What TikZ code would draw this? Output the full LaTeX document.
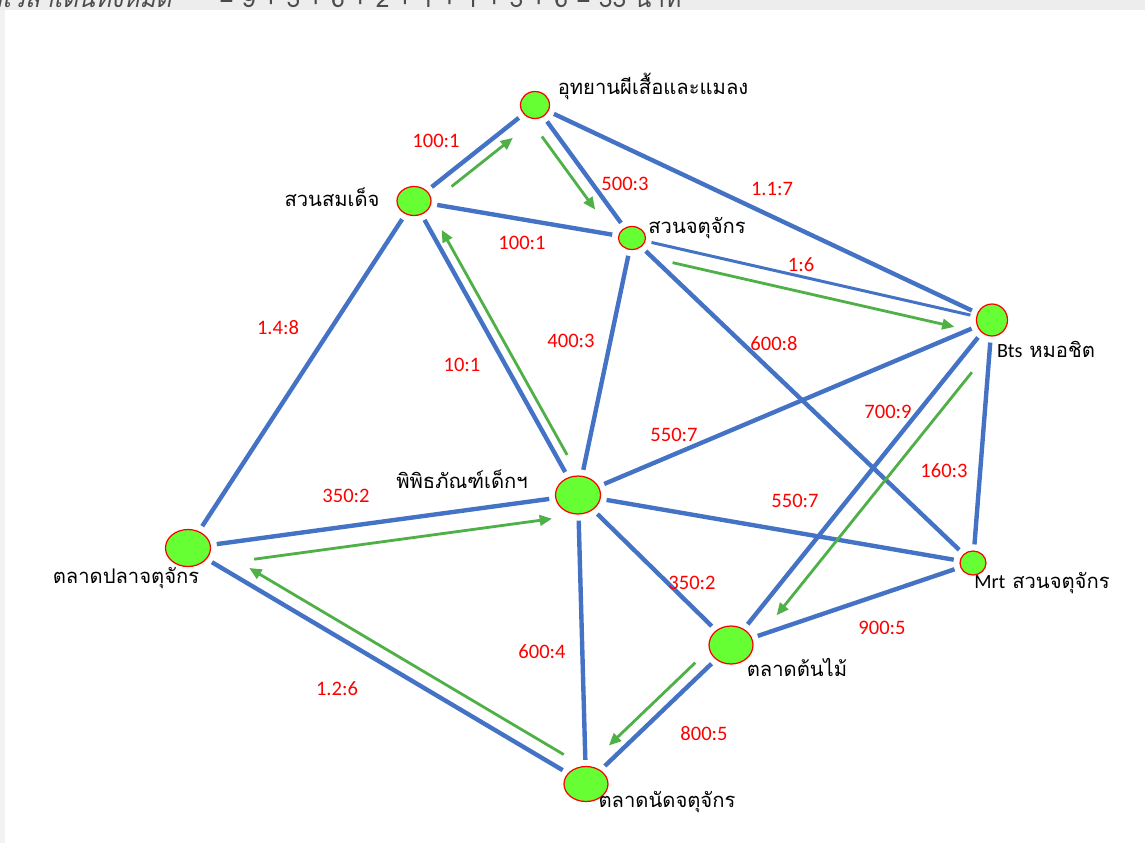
\documentclass[tikz,border=0pt]{standalone}
\usepackage{fontspec}
\setmainfont{Carlito}
\newfontfamily\thaifont[Script=Thai]{Loma}
\newfontfamily\thaislant[Script=Thai,FakeSlant=0.2]{Loma}
\usetikzlibrary{shapes.geometric,arrows.meta}
\definecolor{edgeblue}{RGB}{68,114,196}
\definecolor{stopgreen}{RGB}{102,255,51}
\definecolor{routegreen}{RGB}{80,176,72}

\begin{document}
\begin{tikzpicture}[
    x=0.02cm, y=-0.02cm,
    stop/.style={ellipse, draw=red, fill=stopgreen, line width=0.7pt, inner sep=0pt},
    place/.style={font=\thaifont\fontsize{11.5}{14}\selectfont, text=black, inner sep=0pt},
    cost/.style={font=\fontsize{11.7}{13}\selectfont, text=red, inner sep=0pt},
    link/.style={draw=edgeblue, line width=2.5pt, shorten <=0.12cm, shorten >=0.12cm},
    route/.style={draw=routegreen, line width=1.6pt, -{Triangle[length=7pt,width=6pt]}}
]
\useasboundingbox (0,0) rectangle (1145,843);
\fill[black!7] (0,0) rectangle (1145,10);
\fill[black!5] (0,10) rectangle (5,843);
\node[anchor=base east, inner sep=0pt, text=black!70, font=\thaislant\fontsize{14}{16}\selectfont] (totallabel) at (172,7) {รวมเวลาเดินทั้งหมด};
\node[anchor=base west, inner sep=0pt, text=black!70, font=\thaifont\fontsize{14}{16}\selectfont] (total) at (219,7) {= 9 + 3 + 6 + 2 + 1 + 1 + 3 + 6 = 33 นาที};

\node[stop, minimum width=0.58cm, minimum height=0.54cm] (butterfly) at (535,105) {};
\node[stop, minimum width=0.68cm, minimum height=0.58cm] (queenpark) at (414,201) {};
\node[stop, minimum width=0.54cm, minimum height=0.46cm] (jjpark) at (632,238) {};
\node[stop, minimum width=0.62cm, minimum height=0.64cm] (bts) at (992,320) {};
\node[stop, minimum width=0.90cm, minimum height=0.76cm] (museum) at (578,495) {};
\node[stop, minimum width=0.90cm, minimum height=0.74cm] (fishmkt) at (188,548) {};
\node[stop, minimum width=0.52cm, minimum height=0.48cm] (mrt) at (973,563) {};
\node[stop, minimum width=0.88cm, minimum height=0.76cm] (plantmkt) at (731,645) {};
\node[stop, minimum width=0.88cm, minimum height=0.70cm] (weekendmkt) at (586,784) {};

\node[place] (butterfly-l) at (653,86) {อุทยานผีเสื้อและแมลง};
\node[place] (queenpark-l) at (332,197) {สวนสมเด็จ};
\node[place] (jjpark-l) at (697,228) {สวนจตุจักร};
\node[place] (bts-l) at (1046,349) {{\normalfont Bts} หมอชิต};
\node[place] (museum-l) at (462,479) {พิพิธภัณฑ์เด็กฯ};
\node[place] (fishmkt-l) at (126,578) {ตลาดปลาจตุจักร};
\node[place] (mrt-l) at (1042,583) {{\normalfont Mrt} สวนจตุจักร};
\node[place] (plantmkt-l) at (797,667) {ตลาดต้นไม้};
\node[place] (weekendmkt-l) at (667,802) {ตลาดนัดจตุจักร};

\draw[link] (queenpark) -- (butterfly);
\draw[link] (butterfly) -- (jjpark);
\draw[link] (butterfly) -- (bts);
\draw[link] (queenpark) -- (jjpark);
\draw[link] (queenpark) -- (fishmkt);
\draw[link] (queenpark) -- (museum);
\draw[link, line width=1.7pt] (jjpark) -- (bts);
\draw[link] (jjpark) -- (museum);
\draw[link] (jjpark) -- (mrt);
\draw[link] (bts) -- (museum);
\draw[link] (bts) -- (plantmkt);
\draw[link] (bts) -- (mrt);
\draw[link] (museum) -- (mrt);
\draw[link] (museum) -- (fishmkt);
\draw[link] (museum) -- (plantmkt);
\draw[link] (museum) -- (weekendmkt);
\draw[link] (fishmkt) -- (weekendmkt);
\draw[link] (mrt) -- (plantmkt);
\draw[link] (plantmkt) -- (weekendmkt);

\node[cost] (c1) at (436,141) {100:1};
\node[cost] (c2) at (625,184) {500:3};
\node[cost] (c3) at (772,189) {1.1:7};
\node[cost] (c4) at (522,243) {100:1};
\node[cost] (c5) at (801,265) {1:6};
\node[cost] (c6) at (278,328) {1.4:8};
\node[cost] (c7) at (462,365) {10:1};
\node[cost] (c8) at (571,341) {400:3};
\node[cost] (c9) at (774,344) {600:8};
\node[cost] (c10) at (888,412) {700:9};
\node[cost] (c11) at (674,435) {550:7};
\node[cost] (c12) at (944,471) {160:3};
\node[cost] (c13) at (346,496) {350:2};
\node[cost] (c14) at (795,501) {550:7};
\node[cost] (c15) at (692,583) {350:2};
\node[cost] (c16) at (882,628) {900:5};
\node[cost] (c17) at (542,652) {600:4};
\node[cost] (c18) at (337,689) {1.2:6};
\node[cost] (c19) at (704,734) {800:5};

\draw[route, transform canvas={shift={(0.149cm,-0.188cm)}}, shorten <=0.44cm, shorten >=0.46cm] (queenpark) -- (butterfly);
\draw[route, transform canvas={shift={(-0.21cm,-0.153cm)}}, shorten <=0.30cm, shorten >=0.64cm] (butterfly) -- (jjpark);
\draw[route, transform canvas={shift={(0.175cm,0.098cm)}}, shorten <=0.40cm, shorten >=0.46cm] (museum) -- (queenpark);
\draw[route, transform canvas={shift={(-0.066cm,-0.293cm)}}, shorten <=0.62cm, shorten >=0.38cm] (jjpark) -- (bts);
\draw[route, transform canvas={shift={(0.055cm,-0.396cm)}}, shorten <=0.82cm, shorten >=0.12cm] (fishmkt) -- (museum);
\draw[route, transform canvas={shift={(0.143cm,0.241cm)}}, shorten <=0.26cm, shorten >=0.82cm] (weekendmkt) -- (fishmkt);
\draw[route, transform canvas={shift={(0.266cm,-0.212cm)}}, shorten <=0.74cm, shorten >=0.62cm] (bts) -- (plantmkt);
\draw[route, transform canvas={shift={(-0.165cm,0.174cm)}}, shorten <=0.34cm, shorten >=0.46cm] (plantmkt) -- (weekendmkt);
\end{tikzpicture}
\end{document}
